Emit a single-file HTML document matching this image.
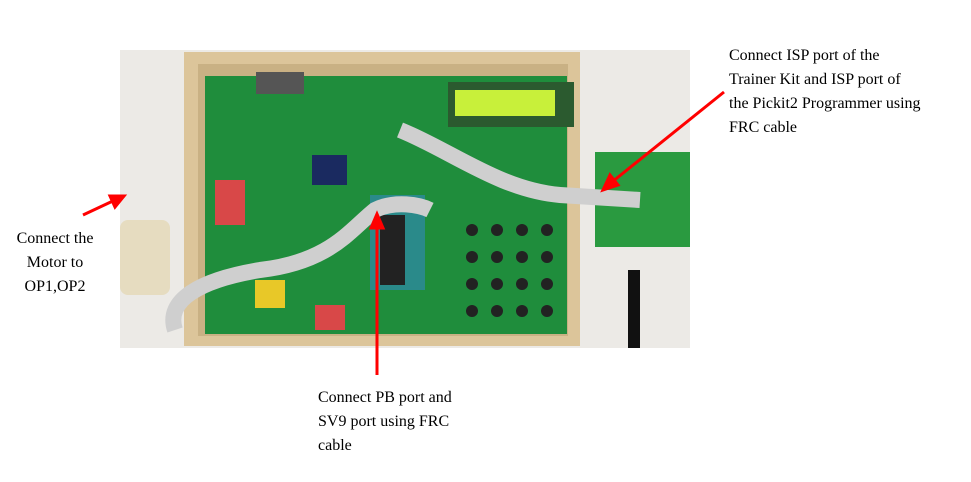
<!DOCTYPE html>
<html><head><style>
body{margin:0;width:971px;height:482px;background:#fff;position:relative;overflow:hidden;font-family:"Liberation Serif",serif;}
.t{position:absolute;font-size:16px;line-height:24px;color:#000;}
.a{position:absolute}
</style></head><body>
<div class="a" style="left:120px;top:50px;width:570px;height:298px;background:#eceae6"></div>
<div class="a" style="left:184px;top:52px;width:396px;height:294px;background:#dcc59a"></div>
<div class="a" style="left:198px;top:64px;width:370px;height:272px;background:#c9b184"></div>
<div class="a" style="left:205px;top:76px;width:362px;height:258px;background:#1f8d3c"></div>
<div class="a" style="left:448px;top:82px;width:126px;height:45px;background:#2b5a2f"></div>
<div class="a" style="left:455px;top:90px;width:100px;height:26px;background:#c8f03a"></div>
<div class="a" style="left:256px;top:72px;width:48px;height:22px;background:#555"></div>
<div class="a" style="left:370px;top:195px;width:55px;height:95px;background:#2a8a8a"></div>
<div class="a" style="left:380px;top:215px;width:25px;height:70px;background:#222"></div>
<div class="a" style="left:312px;top:155px;width:35px;height:30px;background:#1a2a60"></div>
<div class="a" style="left:215px;top:180px;width:30px;height:45px;background:#d84848"></div>
<div class="a" style="left:255px;top:280px;width:30px;height:28px;background:#e8c828"></div>
<div class="a" style="left:315px;top:305px;width:30px;height:25px;background:#d84848"></div>
<div class="a" style="left:595px;top:152px;width:95px;height:95px;background:#2a9a40"></div>
<div class="a" style="left:628px;top:270px;width:12px;height:78px;background:#111"></div>
<div class="a" style="left:120px;top:220px;width:50px;height:75px;background:#e6dcc0;border-radius:8px"></div>
<svg class="a" style="left:0;top:0" width="971" height="482">
<g fill="#222">
<circle cx="472" cy="230" r="6"/><circle cx="497" cy="230" r="6"/><circle cx="522" cy="230" r="6"/><circle cx="547" cy="230" r="6"/>
<circle cx="472" cy="257" r="6"/><circle cx="497" cy="257" r="6"/><circle cx="522" cy="257" r="6"/><circle cx="547" cy="257" r="6"/>
<circle cx="472" cy="284" r="6"/><circle cx="497" cy="284" r="6"/><circle cx="522" cy="284" r="6"/><circle cx="547" cy="284" r="6"/>
<circle cx="472" cy="311" r="6"/><circle cx="497" cy="311" r="6"/><circle cx="522" cy="311" r="6"/><circle cx="547" cy="311" r="6"/>
</g>
<path d="M175 330 C165 300 200 280 260 270 C330 262 350 230 375 210 C395 200 420 205 430 210" stroke="#cfcfcf" stroke-width="16" fill="none"/>
<path d="M400 130 C450 150 500 190 560 195 L640 200" stroke="#cfcfcf" stroke-width="16" fill="none"/>
<g stroke="#f00" stroke-width="3" fill="#f00">
<line x1="83" y1="215" x2="115" y2="200"/><polygon points="124,196 110,196 115,207"/>
<line x1="724" y1="92" x2="612" y2="182"/><polygon points="603,190 610,175 618,185"/>
<line x1="377" y1="375" x2="377" y2="226"/><polygon points="377,214 371,228 383,228"/>
</g></svg>
<div class="t" style="left:6px;top:227px;width:98px;text-align:center">Connect the<br>Motor to<br>OP1,OP2</div>
<div class="t" style="left:729px;top:44px">Connect ISP port of the<br>Trainer Kit and ISP port of<br>the Pickit2 Programmer using<br>FRC cable</div>
<div class="t" style="left:318px;top:386px">Connect PB port and<br>SV9 port using FRC<br>cable</div>
</body></html>
